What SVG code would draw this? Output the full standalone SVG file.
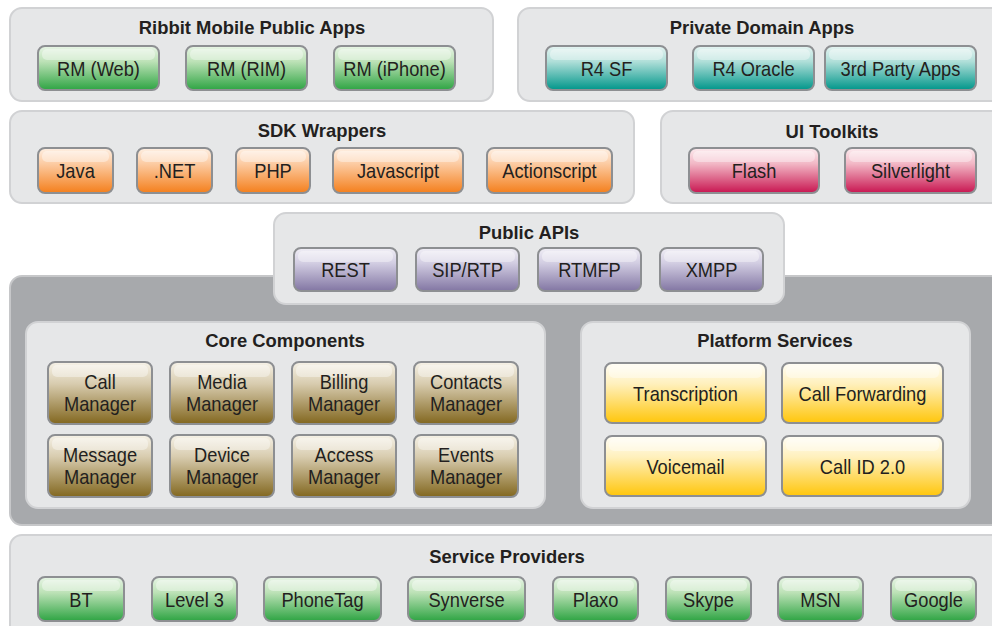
<svg xmlns="http://www.w3.org/2000/svg" width="992" height="626" viewBox="0 0 992 626">
  <defs>
    <linearGradient id="g-green" x1="0" y1="0" x2="0" y2="1">
      <stop offset="0" stop-color="#e8f5e6"/><stop offset="0.35" stop-color="#bde2b7"/><stop offset="1" stop-color="#2ea443"/>
    </linearGradient>
    <linearGradient id="g-teal" x1="0" y1="0" x2="0" y2="1">
      <stop offset="0" stop-color="#e6f4f2"/><stop offset="0.35" stop-color="#b0dfd9"/><stop offset="1" stop-color="#00968a"/>
    </linearGradient>
    <linearGradient id="g-orange" x1="0" y1="0" x2="0" y2="1">
      <stop offset="0" stop-color="#fef0e4"/><stop offset="0.35" stop-color="#fccba2"/><stop offset="1" stop-color="#f47f1c"/>
    </linearGradient>
    <linearGradient id="g-pink" x1="0" y1="0" x2="0" y2="1">
      <stop offset="0" stop-color="#fcecef"/><stop offset="0.35" stop-color="#f2b7c5"/><stop offset="1" stop-color="#c81550"/>
    </linearGradient>
    <linearGradient id="g-purple" x1="0" y1="0" x2="0" y2="1">
      <stop offset="0" stop-color="#f1eff6"/><stop offset="0.35" stop-color="#d2cde2"/><stop offset="1" stop-color="#8276a3"/>
    </linearGradient>
    <linearGradient id="g-gold" x1="0" y1="0" x2="0" y2="1">
      <stop offset="0" stop-color="#f6f2e8"/><stop offset="0.35" stop-color="#d8ccaf"/><stop offset="1" stop-color="#82671f"/>
    </linearGradient>
    <linearGradient id="g-yellow" x1="0" y1="0" x2="0" y2="1">
      <stop offset="0" stop-color="#fffef8"/><stop offset="0.35" stop-color="#fff0bc"/><stop offset="1" stop-color="#ffc60b"/>
    </linearGradient>
  </defs>
  <style>
    .panel { fill: #e6e7e8; stroke: #d1d2d4; stroke-width: 2; }
    .core { fill: #a7a9ac; stroke: #c6c7c9; stroke-width: 2; }
    .btn { stroke: #8d8f92; stroke-width: 2; }
    .hl { fill: #ffffff; fill-opacity: 0.38; }
    text { font-family: "Liberation Sans", Arial, sans-serif; fill: #231f20; text-anchor: middle; }
    .title { font-size: 19px; font-weight: bold; }
    .lbl { font-size: 21px; }
  </style>

  <rect width="992" height="626" fill="#ffffff"/>

  <!-- Ribbit Mobile Public Apps -->
  <g id="ribbit-apps">
    <rect class="panel" x="10" y="8" width="483" height="93" rx="12"/>
    <text class="title" transform="translate(252,34) scale(0.97,1)">Ribbit Mobile Public Apps</text>
    <g id="rm-web">
      <rect class="btn" x="38" y="46" width="121" height="44" rx="7" fill="url(#g-green)"/>
      <rect class="hl" x="42" y="49" width="113" height="11" rx="5"/>
      <text class="lbl" transform="translate(98.5,75.5) scale(0.87,1)">RM (Web)</text>
    </g>
    <g id="rm-rim">
      <rect class="btn" x="186" y="46" width="121" height="44" rx="7" fill="url(#g-green)"/>
      <rect class="hl" x="190" y="49" width="113" height="11" rx="5"/>
      <text class="lbl" transform="translate(246.5,75.5) scale(0.87,1)">RM (RIM)</text>
    </g>
    <g id="rm-iphone">
      <rect class="btn" x="334" y="46" width="121" height="44" rx="7" fill="url(#g-green)"/>
      <rect class="hl" x="338" y="49" width="113" height="11" rx="5"/>
      <text class="lbl" transform="translate(394.5,75.5) scale(0.87,1)">RM (iPhone)</text>
    </g>
  </g>

  <!-- Private Domain Apps -->
  <g id="private-apps">
    <rect class="panel" x="518" y="8" width="490" height="93" rx="12"/>
    <text class="title" transform="translate(762,34) scale(0.97,1)">Private Domain Apps</text>
    <g id="r4-sf">
      <rect class="btn" x="546" y="46" width="121" height="44" rx="7" fill="url(#g-teal)"/>
      <rect class="hl" x="550" y="49" width="113" height="11" rx="5"/>
      <text class="lbl" transform="translate(606.5,75.5) scale(0.87,1)">R4 SF</text>
    </g>
    <g id="r4-oracle">
      <rect class="btn" x="693" y="46" width="121" height="44" rx="7" fill="url(#g-teal)"/>
      <rect class="hl" x="697" y="49" width="113" height="11" rx="5"/>
      <text class="lbl" transform="translate(753.5,75.5) scale(0.87,1)">R4 Oracle</text>
    </g>
    <g id="third-party">
      <rect class="btn" x="825" y="46" width="151" height="44" rx="7" fill="url(#g-teal)"/>
      <rect class="hl" x="829" y="49" width="143" height="11" rx="5"/>
      <text class="lbl" transform="translate(900.5,75.5) scale(0.87,1)">3rd Party Apps</text>
    </g>
  </g>

  <!-- SDK Wrappers -->
  <g id="sdk-wrappers">
    <rect class="panel" x="10" y="111" width="624" height="92" rx="12"/>
    <text class="title" transform="translate(322,137) scale(0.97,1)">SDK Wrappers</text>
    <g id="java">
      <rect class="btn" x="38" y="148" width="75" height="45" rx="7" fill="url(#g-orange)"/>
      <rect class="hl" x="42" y="151" width="67" height="11" rx="5"/>
      <text class="lbl" transform="translate(75.5,178) scale(0.87,1)">Java</text>
    </g>
    <g id="dotnet">
      <rect class="btn" x="137" y="148" width="75" height="45" rx="7" fill="url(#g-orange)"/>
      <rect class="hl" x="141" y="151" width="67" height="11" rx="5"/>
      <text class="lbl" transform="translate(174.5,178) scale(0.87,1)">.NET</text>
    </g>
    <g id="php">
      <rect class="btn" x="236" y="148" width="74" height="45" rx="7" fill="url(#g-orange)"/>
      <rect class="hl" x="240" y="151" width="66" height="11" rx="5"/>
      <text class="lbl" transform="translate(273,178) scale(0.87,1)">PHP</text>
    </g>
    <g id="javascript">
      <rect class="btn" x="333" y="148" width="130" height="45" rx="7" fill="url(#g-orange)"/>
      <rect class="hl" x="337" y="151" width="122" height="11" rx="5"/>
      <text class="lbl" transform="translate(398,178) scale(0.87,1)">Javascript</text>
    </g>
    <g id="actionscript">
      <rect class="btn" x="487" y="148" width="125" height="45" rx="7" fill="url(#g-orange)"/>
      <rect class="hl" x="491" y="151" width="117" height="11" rx="5"/>
      <text class="lbl" transform="translate(549.5,178) scale(0.87,1)">Actionscript</text>
    </g>
  </g>

  <!-- UI Toolkits -->
  <g id="ui-toolkits">
    <rect class="panel" x="661" y="111" width="345" height="92" rx="12"/>
    <text class="title" transform="translate(832,138) scale(0.97,1)">UI Toolkits</text>
    <g id="flash">
      <rect class="btn" x="689" y="148" width="130" height="45" rx="7" fill="url(#g-pink)"/>
      <rect class="hl" x="693" y="151" width="122" height="11" rx="5"/>
      <text class="lbl" transform="translate(754,178) scale(0.87,1)">Flash</text>
    </g>
    <g id="silverlight">
      <rect class="btn" x="845" y="148" width="131" height="45" rx="7" fill="url(#g-pink)"/>
      <rect class="hl" x="849" y="151" width="123" height="11" rx="5"/>
      <text class="lbl" transform="translate(910.5,178) scale(0.87,1)">Silverlight</text>
    </g>
  </g>

  <!-- Platform core backdrop -->
  <g id="platform-core">
    <rect class="core" x="10" y="276" width="1000" height="249" rx="12"/>
  </g>

  <!-- Public APIs -->
  <g id="public-apis">
    <rect class="panel" x="274" y="213" width="510" height="91" rx="12"/>
    <text class="title" transform="translate(529,239) scale(0.97,1)">Public APIs</text>
    <g id="rest">
      <rect class="btn" x="294" y="248" width="103" height="43" rx="7" fill="url(#g-purple)"/>
      <rect class="hl" x="298" y="251" width="95" height="11" rx="5"/>
      <text class="lbl" transform="translate(345.5,277) scale(0.87,1)">REST</text>
    </g>
    <g id="sip-rtp">
      <rect class="btn" x="416" y="248" width="103" height="43" rx="7" fill="url(#g-purple)"/>
      <rect class="hl" x="420" y="251" width="95" height="11" rx="5"/>
      <text class="lbl" transform="translate(467.5,277) scale(0.87,1)">SIP/RTP</text>
    </g>
    <g id="rtmfp">
      <rect class="btn" x="538" y="248" width="103" height="43" rx="7" fill="url(#g-purple)"/>
      <rect class="hl" x="542" y="251" width="95" height="11" rx="5"/>
      <text class="lbl" transform="translate(589.5,277) scale(0.87,1)">RTMFP</text>
    </g>
    <g id="xmpp">
      <rect class="btn" x="660" y="248" width="103" height="43" rx="7" fill="url(#g-purple)"/>
      <rect class="hl" x="664" y="251" width="95" height="11" rx="5"/>
      <text class="lbl" transform="translate(711.5,277) scale(0.87,1)">XMPP</text>
    </g>
  </g>

  <!-- Core Components -->
  <g id="core-components">
    <rect class="panel" x="26" y="322" width="519" height="186" rx="12"/>
    <text class="title" transform="translate(285,347) scale(0.97,1)">Core Components</text>
    <g id="call-manager">
      <rect class="btn" x="48" y="362" width="104" height="62" rx="7" fill="url(#g-gold)"/>
      <rect class="hl" x="52" y="365" width="96" height="12" rx="5"/>
      <text class="lbl" transform="translate(100,389) scale(0.87,1)">Call</text>
      <text class="lbl" transform="translate(100,411) scale(0.87,1)">Manager</text>
    </g>
    <g id="media-manager">
      <rect class="btn" x="170" y="362" width="104" height="62" rx="7" fill="url(#g-gold)"/>
      <rect class="hl" x="174" y="365" width="96" height="12" rx="5"/>
      <text class="lbl" transform="translate(222,389) scale(0.87,1)">Media</text>
      <text class="lbl" transform="translate(222,411) scale(0.87,1)">Manager</text>
    </g>
    <g id="billing-manager">
      <rect class="btn" x="292" y="362" width="104" height="62" rx="7" fill="url(#g-gold)"/>
      <rect class="hl" x="296" y="365" width="96" height="12" rx="5"/>
      <text class="lbl" transform="translate(344,389) scale(0.87,1)">Billing</text>
      <text class="lbl" transform="translate(344,411) scale(0.87,1)">Manager</text>
    </g>
    <g id="contacts-manager">
      <rect class="btn" x="414" y="362" width="104" height="62" rx="7" fill="url(#g-gold)"/>
      <rect class="hl" x="418" y="365" width="96" height="12" rx="5"/>
      <text class="lbl" transform="translate(466,389) scale(0.87,1)">Contacts</text>
      <text class="lbl" transform="translate(466,411) scale(0.87,1)">Manager</text>
    </g>
    <g id="message-manager">
      <rect class="btn" x="48" y="435" width="104" height="62" rx="7" fill="url(#g-gold)"/>
      <rect class="hl" x="52" y="438" width="96" height="12" rx="5"/>
      <text class="lbl" transform="translate(100,462) scale(0.87,1)">Message</text>
      <text class="lbl" transform="translate(100,484) scale(0.87,1)">Manager</text>
    </g>
    <g id="device-manager">
      <rect class="btn" x="170" y="435" width="104" height="62" rx="7" fill="url(#g-gold)"/>
      <rect class="hl" x="174" y="438" width="96" height="12" rx="5"/>
      <text class="lbl" transform="translate(222,462) scale(0.87,1)">Device</text>
      <text class="lbl" transform="translate(222,484) scale(0.87,1)">Manager</text>
    </g>
    <g id="access-manager">
      <rect class="btn" x="292" y="435" width="104" height="62" rx="7" fill="url(#g-gold)"/>
      <rect class="hl" x="296" y="438" width="96" height="12" rx="5"/>
      <text class="lbl" transform="translate(344,462) scale(0.87,1)">Access</text>
      <text class="lbl" transform="translate(344,484) scale(0.87,1)">Manager</text>
    </g>
    <g id="events-manager">
      <rect class="btn" x="414" y="435" width="104" height="62" rx="7" fill="url(#g-gold)"/>
      <rect class="hl" x="418" y="438" width="96" height="12" rx="5"/>
      <text class="lbl" transform="translate(466,462) scale(0.87,1)">Events</text>
      <text class="lbl" transform="translate(466,484) scale(0.87,1)">Manager</text>
    </g>
  </g>

  <!-- Platform Services -->
  <g id="platform-services">
    <rect class="panel" x="581" y="322" width="389" height="186" rx="12"/>
    <text class="title" transform="translate(775,347) scale(0.97,1)">Platform Services</text>
    <g id="transcription">
      <rect class="btn" x="605" y="363" width="161" height="60" rx="7" fill="url(#g-yellow)"/>
      <rect class="hl" x="609" y="366" width="153" height="12" rx="5"/>
      <text class="lbl" transform="translate(685.5,400.5) scale(0.87,1)">Transcription</text>
    </g>
    <g id="call-forwarding">
      <rect class="btn" x="782" y="363" width="161" height="60" rx="7" fill="url(#g-yellow)"/>
      <rect class="hl" x="786" y="366" width="153" height="12" rx="5"/>
      <text class="lbl" transform="translate(862.5,400.5) scale(0.87,1)">Call Forwarding</text>
    </g>
    <g id="voicemail">
      <rect class="btn" x="605" y="436" width="161" height="60" rx="7" fill="url(#g-yellow)"/>
      <rect class="hl" x="609" y="439" width="153" height="12" rx="5"/>
      <text class="lbl" transform="translate(685.5,473.5) scale(0.87,1)">Voicemail</text>
    </g>
    <g id="call-id">
      <rect class="btn" x="782" y="436" width="161" height="60" rx="7" fill="url(#g-yellow)"/>
      <rect class="hl" x="786" y="439" width="153" height="12" rx="5"/>
      <text class="lbl" transform="translate(862.5,473.5) scale(0.87,1)">Call ID 2.0</text>
    </g>
  </g>

  <!-- Service Providers -->
  <g id="service-providers">
    <rect class="panel" x="10" y="535" width="1000" height="110" rx="12"/>
    <text class="title" transform="translate(507,563) scale(0.97,1)">Service Providers</text>
    <g id="bt">
      <rect class="btn" x="38" y="577" width="86" height="44" rx="7" fill="url(#g-green)"/>
      <rect class="hl" x="42" y="580" width="78" height="11" rx="5"/>
      <text class="lbl" transform="translate(81,606.5) scale(0.87,1)">BT</text>
    </g>
    <g id="level3">
      <rect class="btn" x="152" y="577" width="85" height="44" rx="7" fill="url(#g-green)"/>
      <rect class="hl" x="156" y="580" width="77" height="11" rx="5"/>
      <text class="lbl" transform="translate(194.5,606.5) scale(0.87,1)">Level 3</text>
    </g>
    <g id="phonetag">
      <rect class="btn" x="264" y="577" width="117" height="44" rx="7" fill="url(#g-green)"/>
      <rect class="hl" x="268" y="580" width="109" height="11" rx="5"/>
      <text class="lbl" transform="translate(322.5,606.5) scale(0.87,1)">PhoneTag</text>
    </g>
    <g id="synverse">
      <rect class="btn" x="408" y="577" width="117" height="44" rx="7" fill="url(#g-green)"/>
      <rect class="hl" x="412" y="580" width="109" height="11" rx="5"/>
      <text class="lbl" transform="translate(466.5,606.5) scale(0.87,1)">Synverse</text>
    </g>
    <g id="plaxo">
      <rect class="btn" x="553" y="577" width="85" height="44" rx="7" fill="url(#g-green)"/>
      <rect class="hl" x="557" y="580" width="77" height="11" rx="5"/>
      <text class="lbl" transform="translate(595.5,606.5) scale(0.87,1)">Plaxo</text>
    </g>
    <g id="skype">
      <rect class="btn" x="666" y="577" width="85" height="44" rx="7" fill="url(#g-green)"/>
      <rect class="hl" x="670" y="580" width="77" height="11" rx="5"/>
      <text class="lbl" transform="translate(708.5,606.5) scale(0.87,1)">Skype</text>
    </g>
    <g id="msn">
      <rect class="btn" x="778" y="577" width="85" height="44" rx="7" fill="url(#g-green)"/>
      <rect class="hl" x="782" y="580" width="77" height="11" rx="5"/>
      <text class="lbl" transform="translate(820.5,606.5) scale(0.87,1)">MSN</text>
    </g>
    <g id="google">
      <rect class="btn" x="891" y="577" width="85" height="44" rx="7" fill="url(#g-green)"/>
      <rect class="hl" x="895" y="580" width="77" height="11" rx="5"/>
      <text class="lbl" transform="translate(933.5,606.5) scale(0.87,1)">Google</text>
    </g>
  </g>
</svg>
